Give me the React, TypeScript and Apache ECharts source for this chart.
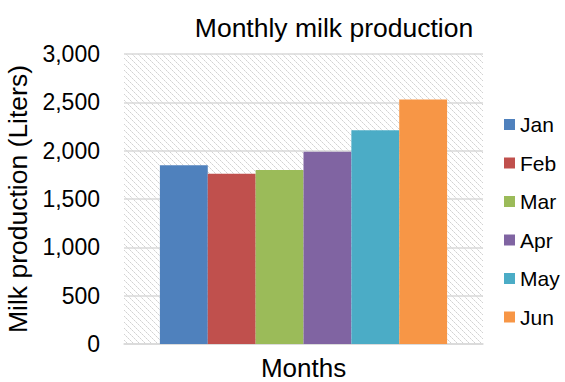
import React, { useEffect, useRef } from "react";
import * as echarts from "echarts";

const months = ["Jan", "Feb", "Mar", "Apr", "May", "Jun"];
const production = [1850, 1760, 1800, 1990, 2210, 2530];
const colors = ["#4f81bd", "#c0504d", "#9bbb59", "#8064a2", "#4bacc6", "#f79646"];
const yTicks = [0, 500, 1000, 1500, 2000, 2500, 3000];

// Light downward-diagonal hatch used as the plot area fill
function makeHatch(): HTMLCanvasElement {
  const size = 6;
  const c = document.createElement("canvas");
  c.width = size;
  c.height = size;
  const ctx = c.getContext("2d")!;
  ctx.fillStyle = "#ffffff";
  ctx.fillRect(0, 0, size, size);
  for (let i = 0; i < size; i++) {
    ctx.fillStyle = i % 2 === 0 ? "#d2d2d2" : "#e4e4e4";
    ctx.fillRect(i, i, 1, 1);
  }
  return c;
}

export default function App() {
  const ref = useRef<HTMLDivElement>(null);

  useEffect(() => {
    if (!ref.current) return;
    const chart = echarts.init(ref.current, undefined, { renderer: "svg" });
    const hatch = makeHatch();
    const font = "'Liberation Sans', Arial, sans-serif";

    chart.setOption({
      animation: false,
      textStyle: { fontFamily: font },
      title: {
        text: "Monthly milk production",
        left: 329,
        top: 9,
        textAlign: "center",
        textStyle: { fontFamily: font, fontSize: 26.5, fontWeight: "normal", color: "#000" },
      },
      legend: {
        orient: "vertical",
        left: 504,
        top: 114,
        padding: 0,
        itemWidth: 11,
        itemHeight: 11,
        itemGap: 17.5,
        icon: "rect",
        textStyle: { fontFamily: font, fontSize: 21, color: "#000" },
        data: months,
      },
      grid: {
        left: 124,
        right: 82,
        top: 54,
        bottom: 38,
        outerBoundsMode: "none",
        containLabel: false,
        show: true,
        borderWidth: 0,
        backgroundColor: { image: hatch, repeat: "repeat", imageWidth: 6, imageHeight: 6 },
      },
      xAxis: {
        type: "category",
        data: ["Months"],
        axisLabel: { show: false },
        axisTick: { show: false },
        axisLine: { lineStyle: { color: "#d9d9d9", width: 1.5 } },
        name: "Months",
        nameLocation: "middle",
        nameGap: 12,
        nameTextStyle: { fontFamily: font, fontSize: 26, lineHeight: 24, color: "#000" },
      },
      yAxis: {
        type: "value",
        min: yTicks[0],
        max: yTicks[yTicks.length - 1],
        interval: 500,
        axisLine: { show: false },
        axisTick: { show: false },
        axisLabel: {
          fontFamily: font,
          fontSize: 23,
          color: "#000",
          margin: 24,
          formatter: (v: number) => v.toLocaleString("en-US"),
        },
        splitLine: { lineStyle: { color: "#d9d9d9", width: 1.5 } },
        name: "Milk production (Liters)",
        nameLocation: "middle",
        nameGap: 86,
        nameTextStyle: { fontFamily: font, fontSize: 26.5, color: "#000" },
      },
      series: months.map((m, i) => ({
        name: m,
        type: "bar",
        data: [production[i]],
        barGap: "0%",
        barCategoryGap: "20%",
        itemStyle: { color: colors[i] },
      })),
    });

    return () => chart.dispose();
  }, []);

  return (
    <div
      ref={ref}
      style={{ position: "fixed", left: 0, top: 0, width: 565, height: 382, background: "#fff" }}
    />
  );
}
